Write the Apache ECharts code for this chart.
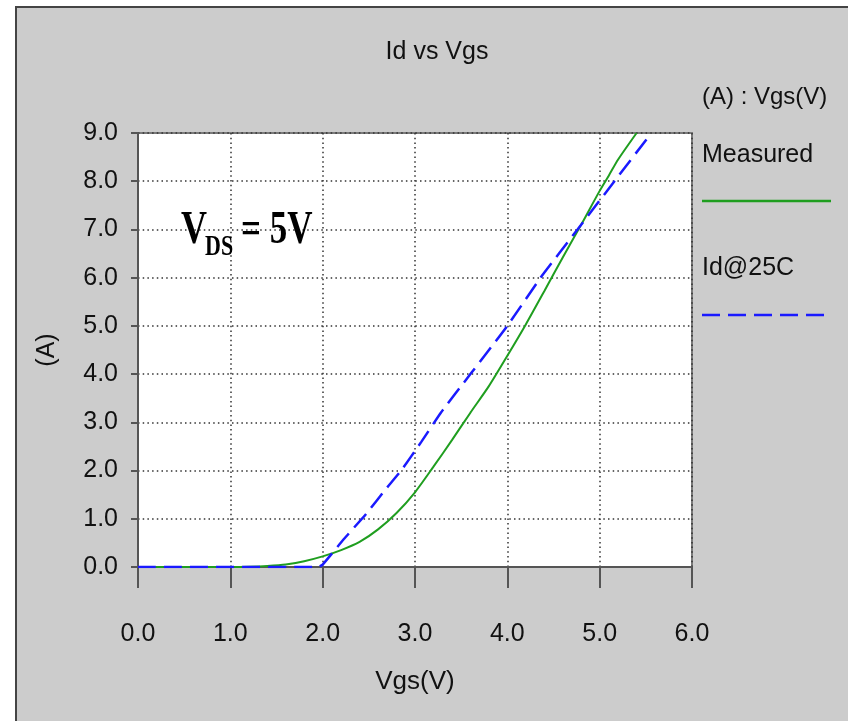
<!DOCTYPE html>
<html><head><meta charset="utf-8">
<script src="https://cdn.jsdelivr.net/npm/echarts@6/dist/echarts.min.js"></script>
<style>html,body{margin:0;padding:0;background:#fff}#c{width:848px;height:721px}</style>
</head><body><div id="c"></div>
<script>
const titleText = 'Id vs Vgs';
const xName = 'Vgs(V)';
const yName = '(A)';
const legendHeader = '(A) : Vgs(V)';
const seriesNames = ['Measured', 'Id@25C'];
const measuredVgs = [0, 1.0, 1.2, 1.4, 1.6, 1.8, 2.0, 2.2, 2.4, 2.6, 2.8, 3.0, 3.2, 3.4, 3.6, 3.8, 4.0, 4.2, 4.4, 4.6, 4.8, 5.0, 5.1, 5.2, 5.4];
const measuredId  = [0, 0, 0.005, 0.02, 0.05, 0.12, 0.22, 0.35, 0.52, 0.78, 1.12, 1.55, 2.08, 2.63, 3.2, 3.75, 4.38, 5.03, 5.72, 6.42, 7.1, 7.8, 8.12, 8.45, 9.0];
const id25Vgs = [0, 1.95, 2.0, 2.23, 2.47, 2.69, 2.85, 3.07, 3.28, 3.6, 4.0, 4.36, 4.76, 5.16, 5.52];
const id25Id  = [0, 0, 0.05, 0.58, 1.1, 1.63, 2.0, 2.6, 3.2, 4.0, 5.0, 6.0, 7.0, 8.0, 8.9];
const xTicks = [0, 1, 2, 3, 4, 5, 6];
const yTicks = [0, 1, 2, 3, 4, 5, 6, 7, 8, 9];
const annotation = { main: 'V', sub: 'DS', rest: '= 5V' };

const F = '"Liberation Sans", Arial, sans-serif';
const SERIF = '"Liberation Serif", "Times New Roman", serif';
const GREEN = '#1f9e1f', BLUE = '#1a1aff';

const chart = echarts.init(document.getElementById('c'), null, { renderer: 'canvas' });
const zip = (xs, ys) => xs.map((x, i) => [x, ys[i]]);

const option = {
  backgroundColor: '#ffffff',
  animation: false,
  title: {
    text: titleText, left: 432, top: 35, textAlign: 'center',
    textStyle: { fontFamily: F, fontSize: 25, fontWeight: 'normal', color: '#111' }
  },
  grid: {
    left: 138, top: 133, width: 554, height: 434,
    show: true, backgroundColor: '#ffffff', borderColor: '#7a7a7a', borderWidth: 2
  },
  xAxis: {
    type: 'value', min: xTicks[0], max: xTicks[xTicks.length - 1], interval: 1,
    offset: 12,
    name: xName, nameLocation: 'middle', nameGap: 90,
    nameTextStyle: { fontFamily: F, fontSize: 26, color: '#111' },
    axisLine: { show: true, lineStyle: { color: '#555', width: 2 } },
    axisTick: { show: true, length: 21, lineStyle: { color: '#555', width: 2 } },
    axisLabel: { margin: 43, fontFamily: F, fontSize: 25, color: '#111', formatter: v => v.toFixed(1) },
    splitLine: { show: true, lineStyle: { type: [1.5, 3.2], color: '#333', width: 1.5 } }
  },
  yAxis: {
    type: 'value', min: yTicks[0], max: yTicks[yTicks.length - 1], interval: 1,
    offset: 6,
    name: yName, nameLocation: 'middle', nameGap: 72, nameRotate: 90,
    nameTextStyle: { fontFamily: F, fontSize: 25, color: '#111' },
    axisLine: { show: true, lineStyle: { color: '#555', width: 2 } },
    axisTick: { show: true, length: 7, lineStyle: { color: '#555', width: 2 } },
    axisLabel: { margin: 14, fontFamily: F, fontSize: 25, color: '#111', formatter: v => v.toFixed(1) },
    splitLine: { show: true, lineStyle: { type: [1.5, 3.2], color: '#333', width: 1.5 } }
  },
  series: [
    { name: seriesNames[0], type: 'line', data: zip(measuredVgs, measuredId), showSymbol: false,
      smooth: 0.25,
      lineStyle: { color: GREEN, width: 2 }, z: 3 },
    { name: seriesNames[1], type: 'line', data: zip(id25Vgs, id25Id), showSymbol: false,
      smooth: 0.15,
      lineStyle: { color: BLUE, width: 2.5, type: [18, 8] }, z: 4 }
  ],
  graphic: [
    { type: 'rect', z: -10, silent: true, shape: { x: 16, y: 7, width: 900, height: 800 },
      style: { fill: '#cccccc', stroke: '#444', lineWidth: 2 } },
    { type: 'text', x: 702, y: 97, z: 10,
      style: { text: legendHeader, font: '24px ' + F, fill: '#111', verticalAlign: 'middle', align: 'left' } },
    { type: 'text', x: 702, y: 155, z: 10,
      style: { text: seriesNames[0], font: '25px ' + F, fill: '#111', verticalAlign: 'middle', align: 'left' } },
    { type: 'line', z: 10, shape: { x1: 702, y1: 201, x2: 831, y2: 201 },
      style: { stroke: GREEN, lineWidth: 2.5 } },
    { type: 'text', x: 702, y: 268, z: 10,
      style: { text: seriesNames[1], font: '25px ' + F, fill: '#111', verticalAlign: 'middle', align: 'left' } },
    { type: 'line', z: 10, shape: { x1: 702, y1: 315, x2: 826, y2: 315 },
      style: { stroke: BLUE, lineWidth: 2.5, lineDash: [18, 8] } },
    { type: 'text', x: 181, y: 231, scaleY: 1.3, z: 10,
      style: { text: annotation.main, font: 'bold 36px ' + SERIF, fill: '#000', verticalAlign: 'middle', align: 'left' } },
    { type: 'text', x: 205, y: 248, scaleY: 1.3, z: 10,
      style: { text: annotation.sub, font: 'bold 22px ' + SERIF, fill: '#000', verticalAlign: 'middle', align: 'left' } },
    { type: 'text', x: 241, y: 231, scaleY: 1.3, z: 10,
      style: { text: annotation.rest, font: 'bold 35px ' + SERIF, fill: '#000', verticalAlign: 'middle', align: 'left' } }
  ]
};
chart.setOption(option);
</script>
</body></html>
